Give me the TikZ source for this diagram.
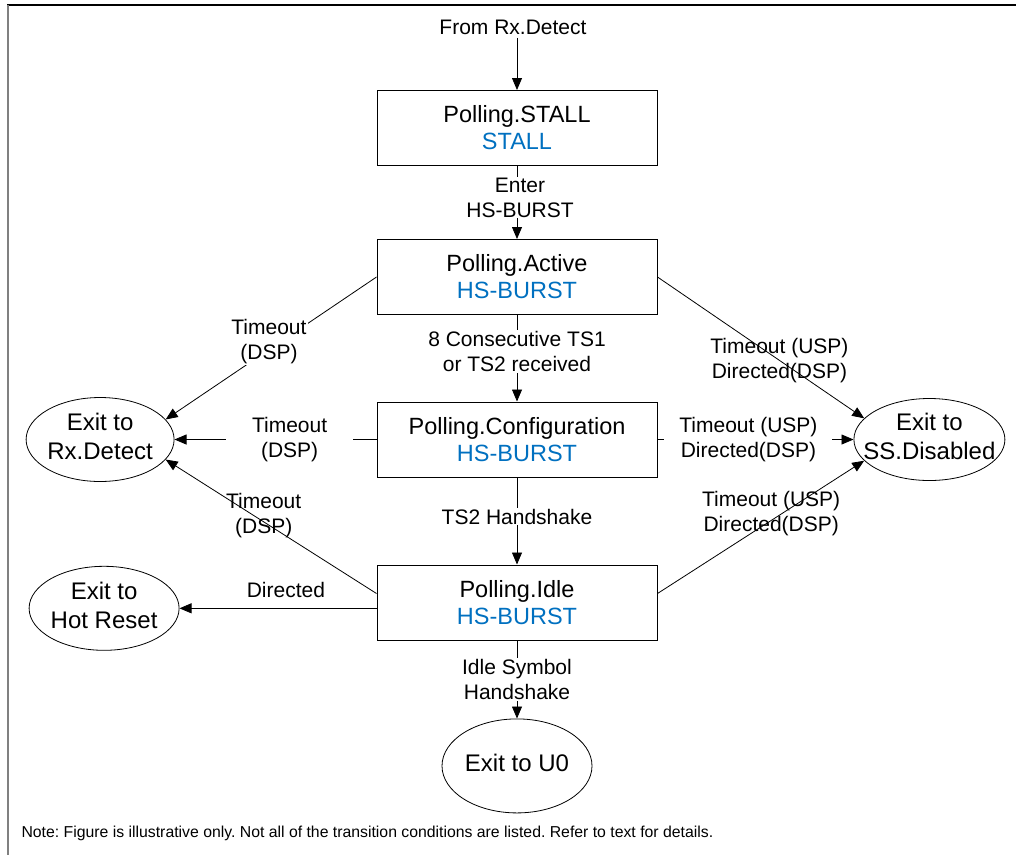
\documentclass[tikz,border=0pt]{standalone}
\usepackage{fontspec}
\setmainfont{Liberation Sans}
\usetikzlibrary{arrows.meta, positioning, shapes.geometric}
\definecolor{stateblue}{RGB}{0,112,192}
\newcommand\sname[1]{\textcolor{stateblue}{#1}}
\newcommand\exitlbl[1]{\makebox[0pt]{\begin{tabular}{@{}c@{}}#1\end{tabular}}}
\frenchspacing

\begin{document}
\begin{tikzpicture}[
      x=1pt, y=-1pt,
      >={Triangle[length=12pt, width=10pt]},
      node distance=74pt and 200pt,
      every node/.append style={font=\fontsize{21}{25}\selectfont},
      state/.style={rectangle, draw, line width=1pt, inner sep=0pt,
                    minimum height=75pt, minimum width=280pt, align=center,
                    font=\fontsize{23.5}{27}\selectfont},
      exitst/.style={ellipse, draw, line width=0.8pt, inner sep=0pt,
                     minimum width=148pt, minimum height=84pt,
                     font=\fontsize{24}{29}\selectfont},
      trans/.style={->, line width=0.8pt},
      cond/.style={align=center, inner sep=1pt},
      condbox/.style={cond, fill=white},
    ]
      \useasboundingbox (0,0) rectangle (1016,855);
      % frame
      \draw[line width=1.3pt] (7,5) -- (1016,5);
      \draw[gray, line width=2pt] (8,5) -- (8,855);

      % states
      \node[state] (stall) at (517,128) {Polling.STALL\\\sname{STALL}};
      \node[state, below=73pt of stall] (active) {Polling.Active\\\sname{HS-BURST}};
      \node[state, below=86.5pt of active] (config) {Polling.Configuration\\\sname{HS-BURST}};
      \node[state, below=87pt of config] (idle) {Polling.Idle\\\sname{HS-BURST}};

      % exits
      \node[exitst, below=78pt of idle, minimum width=150pt, minimum height=94pt] (uzero) {\exitlbl{Exit to U0}};
      \node[exitst, left=202pt of config] (rxdet) {\exitlbl{Exit to\\Rx.Detect}};
      \node[exitst, below=84pt of rxdet, xshift=4pt, minimum width=150pt] (hotrst) {\exitlbl{Exit to\\Hot Reset}};
      \node[exitst, right=196pt of config, minimum width=151pt, minimum height=80pt] (ssdis) {\exitlbl{Exit to\\SS.Disabled}};

      \node (from) at (513,27) {From Rx.Detect};

      % transitions
      \draw[trans] (from.south -| stall.north) -- (stall.north);
      \draw[trans] (stall) -- node[condbox, pos=0.43, xshift=3pt] {Enter\\HS-BURST} (active);
      \draw[trans] (active) -- node[condbox, pos=0.42] {8 Consecutive TS1\\or TS2 received} (config);
      \draw[trans] (config) -- node[condbox, pos=0.45] {TS2 Handshake} (idle);
      \draw[trans] (idle) -- node[condbox, pos=0.5] {Idle Symbol\\Handshake} (uzero);

      \draw[trans] (active.west) -- node[condbox, pos=0.51, yshift=8pt] {Timeout\\(DSP)} (rxdet.17);
      \draw[trans] (config) -- node[condbox, pos=0.43, inner xsep=26pt] {Timeout\\(DSP)} (rxdet);
      \draw[trans] ([yshift=9pt]idle.west) -- node[cond, pos=0.535, yshift=6pt] {Timeout\\(DSP)} (rxdet.-17);
      \draw[trans] (idle.west |- hotrst) -- node[cond, above=9pt, pos=0.46] {Directed} (hotrst);

      \draw[trans] (active.east) -- node[cond, pos=0.59] {Timeout (USP)\\Directed(DSP)} (ssdis.162);
      \draw[trans] (config) -- node[condbox, pos=0.464, inner xsep=15pt] {Timeout (USP)\\Directed(DSP)} (ssdis);
      \draw[trans] ([yshift=9pt]idle.east) -- node[cond, pos=0.55, yshift=7pt] {Timeout (USP)\\Directed(DSP)} (ssdis.198);

      \node[anchor=base west, font=\fontsize{15.8}{19}\selectfont] (note) at (18,837)
        {Note: Figure is illustrative only. Not all of the transition conditions are listed. Refer to text for details.};
    \end{tikzpicture}
\end{document}
